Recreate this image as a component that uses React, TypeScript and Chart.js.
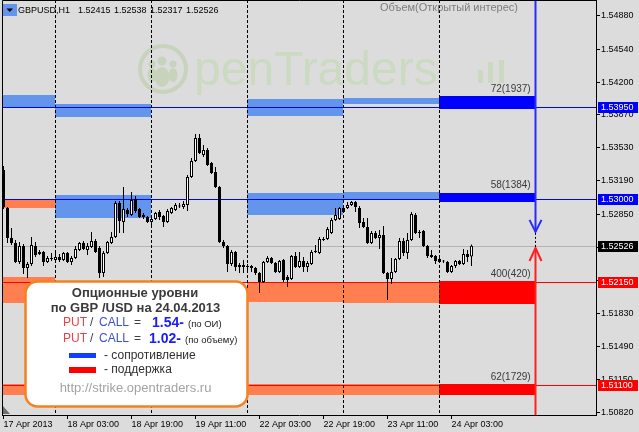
import React, { useEffect, useRef } from 'react';
import { Chart, registerables } from 'chart.js';

Chart.register(...registerables);

const FONT = '"Liberation Sans", Arial, sans-serif';

// ---- candle data (GBPUSD H1, bar 0 = 17 Apr 2013 11:00) ----
const opens = [
  1.53302, 1.52912, 1.52605, 1.52553, 1.52358, 1.52522, 1.52297, 1.52338, 1.52522, 1.52440,
  1.52461, 1.52358, 1.52399, 1.52379, 1.52410, 1.52379, 1.52451, 1.52358, 1.52399, 1.52482,
  1.52553, 1.52482, 1.52512, 1.52574, 1.52502, 1.52246, 1.52451, 1.52553, 1.52615, 1.52963,
  1.52769, 1.52892, 1.52840, 1.53004, 1.52902, 1.52840, 1.52820, 1.52769, 1.52799, 1.52871,
  1.52830, 1.52769, 1.52861, 1.52892, 1.52933, 1.52922, 1.52943, 1.53230, 1.53394, 1.53630,
  1.53456, 1.53507, 1.53374, 1.53281, 1.53128, 1.52563, 1.52522, 1.52338, 1.52461, 1.52328,
  1.52328, 1.52317, 1.52317, 1.52297, 1.52246, 1.52153, 1.52358, 1.52399, 1.52348, 1.52256,
  1.52379, 1.52205, 1.52184, 1.52420, 1.52307, 1.52369, 1.52307, 1.52338, 1.52461, 1.52451,
  1.52594, 1.52594, 1.52656, 1.52789, 1.52799, 1.52912, 1.52912, 1.52943, 1.52974, 1.52912,
  1.52769, 1.52717, 1.52553, 1.52656, 1.52605, 1.52635, 1.52246, 1.52184, 1.52256, 1.52389,
  1.52574, 1.52451, 1.52584, 1.52840, 1.52666, 1.52676, 1.52522, 1.52430, 1.52420, 1.52389,
  1.52369, 1.52358, 1.52256, 1.52317, 1.52369, 1.52338, 1.52440, 1.52415,
];
const highs = [
  1.53343, 1.52922, 1.52707, 1.52584, 1.52563, 1.52543, 1.52358, 1.52615, 1.52563, 1.52482,
  1.52471, 1.52420, 1.52451, 1.52451, 1.52440, 1.52461, 1.52461, 1.52420, 1.52522, 1.52563,
  1.52574, 1.52553, 1.52666, 1.52594, 1.52522, 1.52471, 1.52574, 1.52666, 1.52984, 1.52984,
  1.53128, 1.52912, 1.53076, 1.53035, 1.52912, 1.52861, 1.52830, 1.52820, 1.52871, 1.52892,
  1.52840, 1.52902, 1.52922, 1.52963, 1.52963, 1.52984, 1.53251, 1.53425, 1.53671, 1.53671,
  1.53558, 1.53527, 1.53384, 1.53333, 1.53138, 1.52584, 1.52533, 1.52482, 1.52471, 1.52348,
  1.52379, 1.52338, 1.52328, 1.52307, 1.52256, 1.52369, 1.52420, 1.52410, 1.52358, 1.52379,
  1.52389, 1.52225, 1.52430, 1.52461, 1.52461, 1.52410, 1.52369, 1.52482, 1.52533, 1.52615,
  1.52615, 1.52717, 1.52810, 1.52912, 1.52922, 1.52943, 1.52974, 1.52984, 1.52984, 1.52933,
  1.52810, 1.52810, 1.52676, 1.52676, 1.52687, 1.52728, 1.52256, 1.52399, 1.52399, 1.52605,
  1.52605, 1.52656, 1.52871, 1.52861, 1.52687, 1.52687, 1.52533, 1.52482, 1.52430, 1.52399,
  1.52379, 1.52369, 1.52328, 1.52379, 1.52379, 1.52492, 1.52482, 1.52538,
];
const lows = [
  1.52902, 1.52553, 1.52533, 1.52348, 1.52338, 1.52235, 1.52194, 1.52317, 1.52410, 1.52430,
  1.52317, 1.52348, 1.52369, 1.52358, 1.52358, 1.52369, 1.52348, 1.52328, 1.52389, 1.52471,
  1.52482, 1.52430, 1.52502, 1.52451, 1.52194, 1.52205, 1.52440, 1.52543, 1.52605, 1.52656,
  1.52656, 1.52820, 1.52830, 1.52861, 1.52810, 1.52799, 1.52758, 1.52728, 1.52789, 1.52789,
  1.52717, 1.52758, 1.52850, 1.52881, 1.52912, 1.52902, 1.52881, 1.53220, 1.53384, 1.53466,
  1.53435, 1.53343, 1.53261, 1.53117, 1.52553, 1.52502, 1.52256, 1.52317, 1.52266, 1.52246,
  1.52246, 1.52277, 1.52256, 1.52225, 1.52041, 1.52143, 1.52348, 1.52338, 1.52246, 1.52246,
  1.52153, 1.52102, 1.52174, 1.52297, 1.52297, 1.52256, 1.52256, 1.52328, 1.52451, 1.52440,
  1.52574, 1.52584, 1.52646, 1.52779, 1.52789, 1.52861, 1.52902, 1.52933, 1.52871, 1.52707,
  1.52707, 1.52543, 1.52543, 1.52594, 1.52492, 1.52235, 1.51969, 1.52133, 1.52246, 1.52379,
  1.52420, 1.52389, 1.52574, 1.52646, 1.52605, 1.52512, 1.52399, 1.52399, 1.52338, 1.52348,
  1.52348, 1.52246, 1.52246, 1.52297, 1.52328, 1.52328, 1.52358, 1.52317,
];
const closes = [
  1.52922, 1.52605, 1.52553, 1.52358, 1.52522, 1.52297, 1.52338, 1.52533, 1.52430, 1.52461,
  1.52358, 1.52399, 1.52389, 1.52410, 1.52379, 1.52451, 1.52358, 1.52399, 1.52492, 1.52553,
  1.52492, 1.52522, 1.52574, 1.52461, 1.52246, 1.52451, 1.52563, 1.52615, 1.52963, 1.52779,
  1.52902, 1.52850, 1.52994, 1.52881, 1.52820, 1.52820, 1.52769, 1.52799, 1.52861, 1.52820,
  1.52769, 1.52881, 1.52912, 1.52943, 1.52928, 1.52953, 1.53230, 1.53394, 1.53630, 1.53476,
  1.53507, 1.53353, 1.53271, 1.53128, 1.52563, 1.52522, 1.52338, 1.52461, 1.52307, 1.52307,
  1.52307, 1.52307, 1.52297, 1.52246, 1.52153, 1.52358, 1.52399, 1.52348, 1.52256, 1.52369,
  1.52174, 1.52174, 1.52420, 1.52307, 1.52369, 1.52307, 1.52348, 1.52461, 1.52471, 1.52594,
  1.52584, 1.52697, 1.52789, 1.52840, 1.52912, 1.52871, 1.52943, 1.52974, 1.52922, 1.52758,
  1.52717, 1.52553, 1.52656, 1.52605, 1.52635, 1.52246, 1.52184, 1.52256, 1.52389, 1.52574,
  1.52451, 1.52584, 1.52850, 1.52656, 1.52656, 1.52522, 1.52420, 1.52410, 1.52369, 1.52358,
  1.52364, 1.52256, 1.52317, 1.52369, 1.52338, 1.52440, 1.52410, 1.52526,
];

// ---- axes ----
const xTickIndex = [0, 16, 32, 48, 64, 80, 96, 112];
const xTickLabels = [
  '17 Apr 2013', '18 Apr 03:00', '18 Apr 19:00', '19 Apr 11:00',
  '22 Apr 03:00', '22 Apr 19:00', '23 Apr 11:00', '24 Apr 03:00',
];
const yTicks = [1.5488, 1.5454, 1.542, 1.5387, 1.5353, 1.5319, 1.5285, 1.5251, 1.5217, 1.5183, 1.5149, 1.5115, 1.5082];
const X_MIN = -0.375;
const X_MAX = 148.125;
const Y_MIN = 1.5079;
const Y_MAX = 1.55044;

// day separators (bar index of 00:00)
const daySeparators = [13, 37, 61, 85, 109];

// ---- option level zones ----
const zoneFrom = [-11, -11, -11, -11, 13, 13, 13, 61, 61, 61, 61, 85, 85, 85, 85, 109, 109, 109, 109];
const zoneTo = [13, 13, 13, 13, 37, 37, 37, 85, 85, 85, 85, 109, 109, 109, 109, 133, 133, 133, 133];
const zoneLow = [1.5395, 1.5291, 1.5194, 1.51, 1.5384, 1.5281, 1.5194, 1.5385, 1.5284, 1.5195, 1.51, 1.5398, 1.53, 1.5194, 1.51, 1.5393, 1.5297, 1.5193, 1.51];
const zoneHigh = [1.5407, 1.53, 1.522, 1.5111, 1.5398, 1.5305, 1.5215, 1.5403, 1.5307, 1.5215, 1.5111, 1.5404, 1.5308, 1.5215, 1.5111, 1.5406, 1.5307, 1.5216, 1.5111];
const zoneKind = ['res', 'sup', 'sup', 'sup', 'res', 'res', 'sup', 'res', 'res', 'sup', 'sup', 'res', 'res', 'sup', 'sup', 'resNow', 'resNow', 'supNow', 'supNow'];
const zoneColors: Record<string, string> = { res: '#6495ed', sup: '#ff7f50', resNow: '#0000ff', supNow: '#ff0000' };

const levelPrices = [1.5395, 1.53, 1.5215, 1.511];
const levelColors = ['#0000ff', '#0000ff', '#ff0000', '#ff0000'];
const levelLabels = ['72(1937)', '58(1384)', '400(420)', '62(1729)'];

const lastPrice = 1.52526;
const titleValues = ['1.52415', '1.52538', '1.52317', '1.52526'];
const arrowIndex = 133;
const blueArrowTip = 1.52667;
const redArrowTip = 1.52502;

const hlPrices = [1.5395, 1.53, 1.52526, 1.5215, 1.511];
const hlColors = ['#0000ff', '#0000ff', '#000000', '#ff0000', '#ff0000'];

const putCallOI = '1.54-';
const putCallVol = '1.02-';

function rr(ctx: CanvasRenderingContext2D, x: number, y: number, w: number, h: number, r: number) {
  ctx.beginPath();
  ctx.moveTo(x + r, y);
  ctx.lineTo(x + w - r, y);
  ctx.arcTo(x + w, y, x + w, y + r, r);
  ctx.lineTo(x + w, y + h - r);
  ctx.arcTo(x + w, y + h, x + w - r, y + h, r);
  ctx.lineTo(x + r, y + h);
  ctx.arcTo(x, y + h, x, y + h - r, r);
  ctx.lineTo(x, y + r);
  ctx.arcTo(x, y, x + r, y, r);
  ctx.closePath();
}

function txt(ctx: CanvasRenderingContext2D, s: string, x: number, y: number, font: string, color: string, align: CanvasTextAlign = 'left') {
  ctx.font = font;
  ctx.fillStyle = color;
  ctx.textAlign = align;
  ctx.textBaseline = 'middle';
  ctx.fillText(s, x, y);
}

function drawWatermark(ctx: CanvasRenderingContext2D) {
  ctx.save();
  ctx.strokeStyle = '#c8d3bd';
  ctx.lineWidth = 4;
  ctx.beginPath();
  ctx.arc(163, 69, 23, 0, Math.PI * 2);
  ctx.stroke();
  ctx.fillStyle = '#c7d4bb';
  const heads = [[162, 61, 4.5], [152, 64, 3.5], [173, 64, 3.5]];
  heads.forEach(([hx, hy, r]) => { ctx.beginPath(); ctx.arc(hx, hy, r, 0, Math.PI * 2); ctx.fill(); });
  const bodies = [[152, 75, 4.5, 7], [173, 75, 4.5, 7], [162, 77, 7.5, 10]];
  bodies.forEach(([bx, by, rx, ry]) => { ctx.beginPath(); ctx.ellipse(bx, by, rx, ry, 0, 0, Math.PI * 2); ctx.fill(); });
  ctx.font = `48px ${FONT}`;
  ctx.fillStyle = '#ccdac2';
  ctx.textAlign = 'left';
  ctx.textBaseline = 'alphabetic';
  ctx.fillText('penTraders', 194, 85);
  ctx.fillStyle = '#cbd9c0';
  ctx.fillRect(478, 70, 5, 13);
  ctx.fillRect(488, 62, 5, 21);
  ctx.fillRect(499, 60, 5, 23);
  ctx.restore();
}

const overlay = {
  id: 'overlay',
  beforeDraw(chart: any) {
    const ctx = chart.ctx as CanvasRenderingContext2D;
    ctx.save();
    ctx.fillStyle = '#dcdcdc';
    ctx.fillRect(0, 0, chart.width, chart.height);
    ctx.restore();
  },
  beforeDatasetsDraw(chart: any) {
    const ctx = chart.ctx as CanvasRenderingContext2D;
    const a = chart.chartArea;
    const xs = chart.scales.x;
    const ys = chart.scales.y;
    ctx.save();
    ctx.beginPath();
    ctx.rect(a.left, a.top, a.right - a.left, a.bottom - a.top);
    ctx.clip();

    drawWatermark(ctx);

    // zones
    zoneFrom.forEach((f, i) => {
      const x0 = Math.floor(xs.getPixelForValue(f));
      const x1 = Math.floor(xs.getPixelForValue(zoneTo[i]));
      const y0 = Math.round(ys.getPixelForValue(zoneHigh[i]));
      const y1 = Math.round(ys.getPixelForValue(zoneLow[i]));
      ctx.fillStyle = zoneColors[zoneKind[i]];
      ctx.fillRect(x0, y0, x1 - x0, y1 - y0);
    });

    // current price line
    const ly = Math.round(ys.getPixelForValue(lastPrice)) + 0.5;
    ctx.strokeStyle = '#b4b4b4';
    ctx.lineWidth = 1;
    ctx.beginPath();
    ctx.moveTo(a.left, ly);
    ctx.lineTo(a.right, ly);
    ctx.stroke();

    // level lines
    levelPrices.forEach((p, i) => {
      const y = Math.round(ys.getPixelForValue(p)) + 0.5;
      ctx.strokeStyle = levelColors[i];
      ctx.beginPath();
      ctx.moveTo(a.left, y);
      ctx.lineTo(a.right, y);
      ctx.stroke();
    });

    // day separators
    ctx.strokeStyle = '#000000';
    ctx.setLineDash([3, 2]);
    daySeparators.forEach((d) => {
      const x = Math.floor(xs.getPixelForValue(d)) + 0.5;
      ctx.beginPath();
      ctx.moveTo(x, a.top);
      ctx.lineTo(x, a.bottom);
      ctx.stroke();
    });
    ctx.setLineDash([]);

    // level labels
    levelPrices.forEach((p, i) => {
      let top = p;
      zoneFrom.forEach((f, k) => {
        if ((zoneKind[k] === 'resNow' || zoneKind[k] === 'supNow') && zoneLow[k] <= p + 1e-9 && zoneHigh[k] >= p - 1e-9) top = zoneHigh[k];
      });
      const ty = ys.getPixelForValue(top) - 7;
      txt(ctx, levelLabels[i], xs.getPixelForValue(131.8), ty, `10px ${FONT}`, '#3a3a3a', 'right');
    });

    // arrows
    const ax = xs.getPixelForValue(arrowIndex);
    const bt = ys.getPixelForValue(blueArrowTip);
    const rt = ys.getPixelForValue(redArrowTip);
    ctx.lineWidth = 2;
    ctx.strokeStyle = '#2a2aff';
    ctx.beginPath();
    ctx.moveTo(ax, a.top);
    ctx.lineTo(ax, bt);
    ctx.stroke();
    ctx.beginPath();
    ctx.moveTo(ax - 6, bt - 12);
    ctx.lineTo(ax, bt);
    ctx.lineTo(ax + 6, bt - 12);
    ctx.stroke();
    ctx.strokeStyle = '#ff2020';
    ctx.beginPath();
    ctx.moveTo(ax, rt);
    ctx.lineTo(ax, a.bottom);
    ctx.stroke();
    ctx.beginPath();
    ctx.moveTo(ax - 6, rt + 13);
    ctx.lineTo(ax, rt);
    ctx.lineTo(ax + 6, rt + 13);
    ctx.stroke();
    ctx.lineWidth = 1;
    ctx.strokeStyle = '#000000';
    ctx.setLineDash([2, 2]);
    ctx.beginPath();
    ctx.moveTo(Math.floor(ax) + 0.5, bt + 1);
    ctx.lineTo(Math.floor(ax) + 0.5, rt - 1);
    ctx.stroke();
    ctx.setLineDash([]);
    ctx.restore();
  },
  afterDraw(chart: any) {
    const ctx = chart.ctx as CanvasRenderingContext2D;
    const a = chart.chartArea;
    const ys = chart.scales.y;
    ctx.save();

    // frame top / left
    ctx.strokeStyle = '#000000';
    ctx.lineWidth = 1;
    ctx.beginPath();
    ctx.moveTo(a.left + 0.5, a.bottom);
    ctx.lineTo(a.left + 0.5, a.top + 0.5);
    ctx.lineTo(a.right, a.top + 0.5);
    ctx.stroke();

    // highlighted price labels on the axis
    hlPrices.forEach((p, i) => {
      const y = Math.round(ys.getPixelForValue(p));
      ctx.fillStyle = hlColors[i];
      ctx.fillRect(598, y - 5, 40, 11);
      txt(ctx, p.toFixed(5), 601, y + 0.5, `9px ${FONT}`, '#ffffff');
    });

    // title
    ctx.fillStyle = '#6495ed';
    ctx.fillRect(3, 4, 14, 12);
    ctx.fillStyle = '#000000';
    ctx.beginPath();
    ctx.moveTo(6.5, 8.5);
    ctx.lineTo(13, 8.5);
    ctx.lineTo(9.75, 12);
    ctx.closePath();
    ctx.fill();
    txt(ctx, 'GBPUSD,H1', 18, 10.5, `9px ${FONT}`, '#000000');
    titleValues.forEach((v, i) => txt(ctx, v, 78 + i * 36, 10.5, `9px ${FONT}`, '#000000'));
    txt(ctx, 'Объем(Открытый интерес)', 518, 8, `11px ${FONT}`, '#7c7c7c', 'right');

    // info box
    rr(ctx, 25.5, 281.5, 222, 125, 12);
    ctx.fillStyle = '#ffffff';
    ctx.fill();
    ctx.strokeStyle = '#f5821f';
    ctx.lineWidth = 2.5;
    ctx.stroke();

    txt(ctx, 'Опционные уровни', 135, 293, `bold 13px ${FONT}`, '#3a3a3a', 'center');
    txt(ctx, 'по GBP /USD на 24.04.2013', 135.5, 308, `bold 13px ${FONT}`, '#3a3a3a', 'center');
    const rows: [number, string, string, number, number][] = [
      [323, putCallOI, '(по ОИ)', 152, 188],
      [339, putCallVol, '(по объему)', 149, 185],
    ];
    rows.forEach(([y, val, note, vx, nx]) => {
      txt(ctx, 'PUT', 63, y, `12px ${FONT}`, '#e8424a');
      txt(ctx, '/', 90, y, `12px ${FONT}`, '#404040');
      txt(ctx, 'CALL', 99, y, `12px ${FONT}`, '#3f51c6');
      txt(ctx, '=', 134, y, `12px ${FONT}`, '#404040');
      txt(ctx, val, vx, y, `bold 14px ${FONT}`, '#1a1aff');
      txt(ctx, note, nx, y + 1, `9.5px ${FONT}`, '#202020');
    });
    ctx.fillStyle = '#1040ff';
    ctx.fillRect(69, 353, 27, 5);
    txt(ctx, '- сопротивление', 104, 355.5, `12px ${FONT}`, '#303030');
    ctx.fillStyle = '#ff0000';
    ctx.fillRect(69, 367, 27, 6);
    txt(ctx, '- поддержка', 104, 370, `12px ${FONT}`, '#303030');
    txt(ctx, 'http://strike.opentraders.ru', 135.5, 388, `13px ${FONT}`, '#a3a3a3', 'center');

    // small marker bottom-left
    ctx.fillStyle = '#6e6e6e';
    ctx.beginPath();
    ctx.moveTo(3, 406);
    ctx.lineTo(3, 414);
    ctx.lineTo(10, 414);
    ctx.closePath();
    ctx.fill();
    ctx.restore();
  },
};

if (typeof document !== 'undefined') document.body.style.margin = '0';

export default function App() {
  const ref = useRef<HTMLCanvasElement>(null);
  useEffect(() => {
    document.body.style.margin = '0';
    const canvas = ref.current as HTMLCanvasElement;
    const bodies = opens.map((o, i) => ({ x: i, y: [o, closes[i]] }));
    const wicks = lows.map((l, i) => ({ x: i, y: [l, highs[i]] }));
    const chart = new Chart(canvas, {
      type: 'bar',
      data: {
        datasets: [
          {
            label: 'body',
            data: bodies as any,
            backgroundColor: opens.map((o, i) => (closes[i] >= o ? '#ffffff' : '#000000')),
            borderColor: '#000000',
            borderWidth: 1,
            borderSkipped: false,
            barThickness: 3,
            minBarLength: 1,
            grouped: false,
            order: 0,
            inflateAmount: 0,
          } as any,
          {
            label: 'wick',
            data: wicks as any,
            backgroundColor: '#000000',
            borderWidth: 0,
            barThickness: 1,
            minBarLength: 1,
            grouped: false,
            order: 1,
            inflateAmount: 0,
          } as any,
        ],
      },
      options: {
        responsive: false,
        animation: false,
        devicePixelRatio: 1,
        layout: { padding: { left: 2, top: 0, right: 0, bottom: 0 } },
        plugins: { legend: { display: false }, tooltip: { enabled: false } },
        scales: {
          x: {
            type: 'linear',
            min: X_MIN,
            max: X_MAX,
            offset: false,
            grid: { drawOnChartArea: false, drawTicks: true, tickLength: 4, color: '#000000', offset: false },
            border: { display: true, color: '#000000' },
            ticks: {
              autoSkip: false,
              maxRotation: 0,
              minRotation: 0,
              align: 'start',
              padding: 0,
              color: '#000000',
              font: { family: FONT, size: 9 },
              callback: (v: any) => {
                const k = xTickIndex.indexOf(Number(v));
                return k >= 0 ? xTickLabels[k] : '';
              },
            },
            afterBuildTicks: (s: any) => { s.ticks = xTickIndex.map((v) => ({ value: v })); },
            afterFit: (s: any) => {
              s.height = 17;
              s.paddingLeft = 0;
              s.paddingRight = 0;
              s.paddingTop = 0;
              s.paddingBottom = 0;
            },
          },
          y: {
            type: 'linear',
            position: 'right',
            min: Y_MIN,
            max: Y_MAX,
            grid: { drawOnChartArea: false, drawTicks: true, tickLength: 4, color: '#000000' },
            border: { display: true, color: '#000000' },
            ticks: {
              autoSkip: false,
              padding: 1,
              color: '#000000',
              font: { family: FONT, size: 9 },
              callback: (v: any) => Number(v).toFixed(5),
            },
            afterBuildTicks: (s: any) => { s.ticks = yTicks.map((v) => ({ value: v })); },
            afterFit: (s: any) => {
              s.width = 43;
              s.paddingTop = 0;
              s.paddingBottom = 0;
              s.paddingLeft = 0;
              s.paddingRight = 0;
            },
          },
        },
      } as any,
      plugins: [overlay],
    });
    return () => chart.destroy();
  }, []);
  return (
    <div style={{ width: 639, height: 432, background: '#dcdcdc', overflow: 'hidden' }}>
      <canvas ref={ref} width={639} height={432} style={{ display: 'block', width: 639, height: 432 }} />
    </div>
  );
}
